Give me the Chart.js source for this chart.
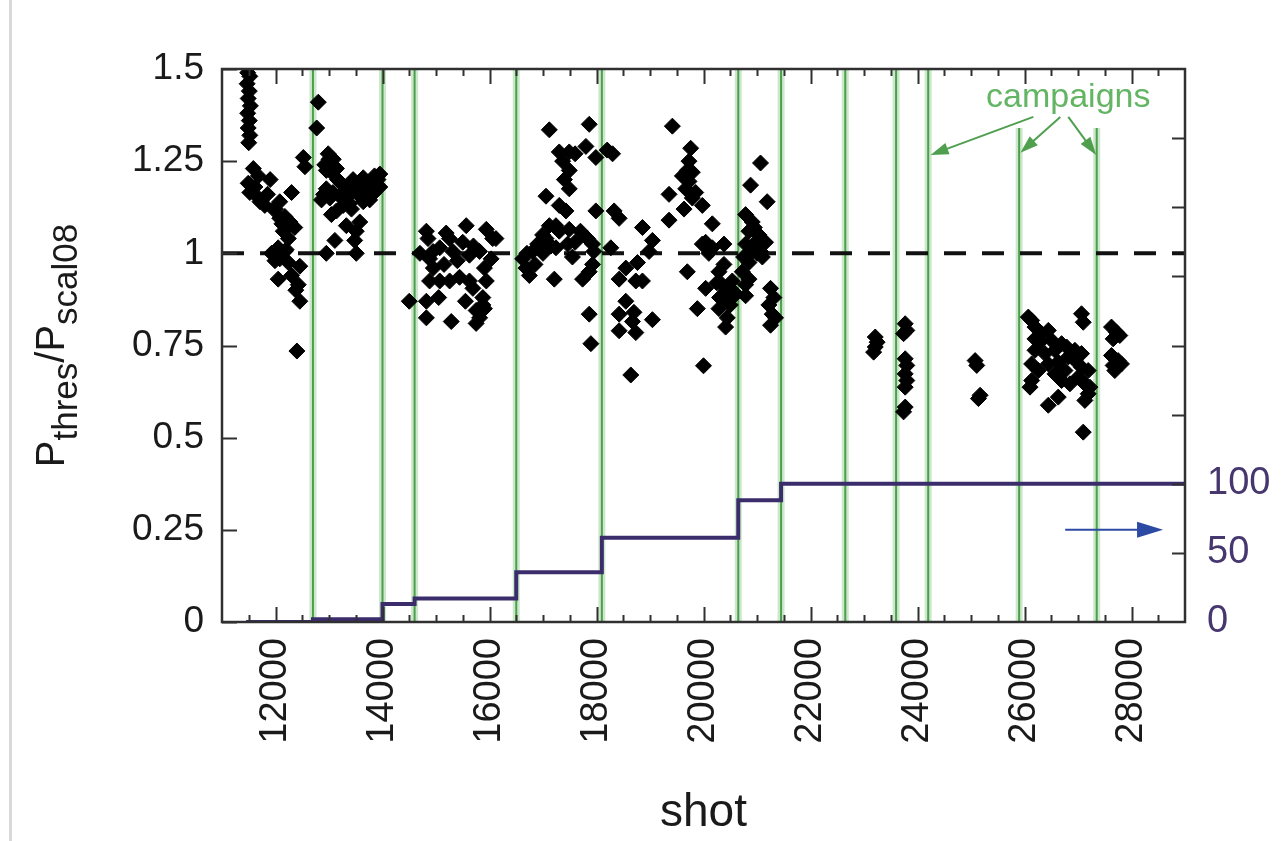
<!DOCTYPE html>
<html>
<head>
<meta charset="utf-8">
<script src="https://cdn.jsdelivr.net/npm/chart.js@4.4.1/dist/chart.umd.min.js"></script>
<style>
  html, body { margin: 0; padding: 0; background: #fff; }
  #wrap { position: relative; width: 1285px; height: 841px; }
  #edge { position: absolute; left: 9px; top: 0; width: 3px; height: 841px; background: #d9d9d9; }
</style>
</head>
<body>
<div id="wrap">
  <canvas id="chart" width="1285" height="841"></canvas>
  <div id="edge"></div>
</div>
<script>
// Axis ticks
const xTickValues = [12000, 14000, 16000, 18000, 20000, 22000, 24000, 26000, 28000];
const xTickLabels = ['12000', '14000', '16000', '18000', '20000', '22000', '24000', '26000', '28000'];
const yTickValues = [0, 0.25, 0.5, 0.75, 1, 1.25, 1.5];
const yTickLabels = ['0', '0.25', '0.5', '0.75', '1', '1.25', '1.5'];
const y2TickValues = [0, 50, 100];
const y2TickLabels = ['0', '50', '100'];

// Campaign boundaries (shot) and where each green line ends (ratio)
const campaignShots = [12700, 14000, 14600, 16500, 18100, 20650, 21450, 22650, 23600, 24200, 25900, 27350];
const campaignTops = [1.5, 1.5, 1.5, 1.5, 1.5, 1.5, 1.5, 1.5, 1.5, 1.5, 1.34, 1.34];

// Step curve on the right axis
const stepShots = [11450, 12700, 14000, 14600, 16500, 18100, 20650, 21450, 29000];
const stepValues = [0, 2, 13, 17, 36, 61, 88, 100, 100];

// Reference level
const refLevel = 1;

// P_thres / P_scal08 per shot, grouped by campaign period
const pointsA = [
    [11480, 1.49], [11520, 1.48], [11470, 1.46], [11510, 1.44], [11490, 1.42], [11530, 1.40], [11480, 1.38], [11510, 1.36],
    [11490, 1.34], [11520, 1.32], [11500, 1.30], [11585, 1.23], [11680, 1.21], [11900, 1.20], [11490, 1.19], [11615, 1.18],
    [11520, 1.165], [11650, 1.155], [11710, 1.14], [11800, 1.13], [12300, 1.165], [12080, 1.14], [11960, 1.12], [12175, 1.10],
    [12080, 1.095], [12270, 1.085], [12360, 1.07], [12145, 1.06], [12240, 1.04], [12050, 1.015], [11925, 1.0], [12175, 1.005],
    [12080, 0.985], [11990, 0.98], [12240, 0.975], [12455, 0.965], [12050, 0.93], [12425, 0.915], [12455, 0.87], [12400, 0.735],
    [12520, 1.26], [12550, 1.235], [11850, 1.16], [12000, 1.12], [12120, 1.08], [12300, 0.94], [12380, 0.90], [12200, 1.01]
];
const pointsB = [
    [12800, 1.41], [12770, 1.34], [12985, 1.27], [13080, 1.255], [12920, 1.24], [13140, 1.23], [13045, 1.22], [13450, 1.20],
    [13640, 1.205], [13790, 1.195], [13915, 1.20], [13950, 1.18], [13825, 1.175], [13510, 1.185], [13325, 1.18], [12950, 1.175],
    [13075, 1.165], [12860, 1.145], [13015, 1.15], [13200, 1.155], [13390, 1.16], [13575, 1.155], [13700, 1.165], [13265, 1.13],
    [13140, 1.115], [13420, 1.12], [13640, 1.14], [13760, 1.145], [13045, 1.105], [13325, 1.075], [13575, 1.085], [13510, 1.06],
    [13110, 1.035], [13480, 1.035], [12950, 1.0], [13510, 1.0], [13850, 1.21], [13700, 1.19], [13600, 1.175], [13230, 1.19],
    [13160, 1.20], [12900, 1.16], [13850, 1.165], [13950, 1.215], [13380, 1.135], [13880, 1.185], [13000, 1.255], [12950, 1.225]
];
const pointsC = [[14500, 0.87]];
const pointsD = [
    [14820, 1.06], [14850, 1.04], [15190, 1.055], [15565, 1.075], [15940, 1.065], [16060, 1.04], [14945, 1.005], [15070, 1.015],
    [15315, 1.005], [15625, 0.995], [15815, 1.005], [16030, 0.985], [14880, 0.985], [14880, 0.925], [15070, 0.925], [15255, 0.925],
    [15440, 0.935], [15625, 0.925], [15940, 0.925], [15690, 0.905], [14820, 0.87], [14820, 0.825], [15285, 0.815], [15750, 0.845],
    [15875, 0.86], [15815, 0.825], [15750, 0.81], [16120, 1.04], [15905, 0.96], [15875, 0.88], [15905, 0.85], [14700, 1.0],
    [14950, 0.96], [15150, 0.97], [15400, 0.98], [15500, 1.03], [15700, 1.02], [15250, 1.04], [15050, 0.88], [15550, 0.87]
];
const pointsE = [
    [16620, 0.985], [16683, 0.96], [16745, 0.94], [16807, 1.005], [16900, 1.025], [16993, 1.05], [17056, 1.04], [17118, 1.075],
    [17242, 1.075], [17304, 1.06], [17491, 1.065], [17242, 1.015], [17460, 1.025], [17118, 1.335], [17864, 1.35], [17304, 1.275],
    [17491, 1.275], [17367, 1.25], [17491, 1.225], [17802, 1.29], [17988, 1.26], [17491, 1.175], [17056, 1.155], [17304, 1.13],
    [17429, 1.115], [17988, 1.115], [17833, 1.04], [17926, 1.025], [17926, 0.97], [17864, 0.95], [17740, 0.93], [17211, 0.93],
    [17864, 0.835], [17895, 0.755], [16700, 1.0], [16850, 0.97], [17000, 1.0], [17150, 1.02], [17600, 1.03], [17700, 1.06],
    [17550, 0.99], [17950, 1.005], [17400, 1.2], [17600, 1.27]
];
const pointsF = [
    [18300, 1.27], [18330, 1.115], [18423, 1.095], [18268, 1.015], [18423, 0.93], [18548, 0.96], [18766, 0.975], [18859, 1.07],
    [19045, 1.035], [18983, 1.005], [18735, 0.925], [18859, 0.925], [18548, 0.87], [18423, 0.835], [18672, 0.815], [18423, 0.79],
    [18735, 0.785], [19045, 0.82], [18641, 0.67], [19418, 1.345], [19356, 1.16], [19356, 1.09], [19760, 1.285], [19729, 1.25],
    [19698, 1.225], [19791, 1.22], [19605, 1.21], [19729, 1.195], [19667, 1.175], [19854, 1.165], [19791, 1.15], [19978, 1.13],
    [19636, 1.12], [20165, 1.08], [20040, 1.03], [19978, 1.025], [20165, 1.015], [20382, 1.025], [19698, 0.95], [20040, 0.905],
    [20289, 0.95], [20351, 0.915], [20475, 0.895], [20413, 0.87], [20289, 0.85], [20444, 0.825], [20413, 0.8], [19885, 0.85],
    [20000, 0.695], [20538, 0.925], [20538, 0.88], [20569, 0.895], [20382, 0.97], [18200, 1.28], [18700, 0.84], [20100, 1.0],
    [20250, 0.92], [20500, 0.86], [20300, 0.88]
];
const pointsG = [
    [21066, 1.245], [20880, 1.185], [21190, 1.14], [20787, 1.105], [20911, 1.085], [20849, 1.06], [21035, 1.05], [20973, 1.03],
    [21160, 1.03], [20787, 1.025], [20911, 1.005], [21066, 1.005], [20849, 0.975], [20725, 0.95], [20787, 0.915], [20787, 0.885],
    [21253, 0.905], [21315, 0.88], [21222, 0.86], [21284, 0.835], [21253, 0.805], [21346, 0.825], [20950, 1.07], [21000, 1.0],
    [20850, 0.93], [20750, 0.99], [21100, 0.99]
];
const pointsH = [
    [23210, 0.773], [23210, 0.746], [23245, 0.759], [23180, 0.732],
    [23770, 0.809], [23800, 0.791], [23740, 0.782], [23770, 0.714], [23800, 0.696], [23770, 0.673], [23800, 0.655], [23770, 0.637],
    [23770, 0.583], [23740, 0.57],
    [25077, 0.709], [25108, 0.696], [25170, 0.615], [25139, 0.606],
    [26134, 0.818], [26196, 0.8], [26320, 0.782], [26445, 0.791], [26507, 0.764], [26289, 0.759], [26196, 0.737], [26382, 0.728],
    [26569, 0.737], [26693, 0.755], [26787, 0.746], [26942, 0.737], [27066, 0.728], [26818, 0.719], [26631, 0.705], [26445, 0.7],
    [26134, 0.7], [26258, 0.682], [26134, 0.655], [26103, 0.637], [26569, 0.673], [26756, 0.682], [26693, 0.655], [26849, 0.646],
    [27004, 0.664], [27128, 0.646], [27191, 0.619], [27128, 0.601], [26445, 0.588], [26631, 0.61], [27066, 0.836], [27098, 0.813],
    [27098, 0.515], [26942, 0.71], [27066, 0.691], [27191, 0.682], [27222, 0.637], [26071, 0.827], [26196, 0.768],
    [27626, 0.8], [27719, 0.786], [27657, 0.768], [27781, 0.777], [27626, 0.723], [27750, 0.709], [27657, 0.696], [27812, 0.7],
    [27688, 0.682]
];

const FONT = "'Liberation Sans', Arial, Helvetica, sans-serif";
const allPoints = [...pointsA, ...pointsB, ...pointsC, ...pointsD, ...pointsE, ...pointsF, ...pointsG, ...pointsH]
    .map(([x, y]) => ({ x, y }));

const campaignData = campaignShots.flatMap((s, i) => [{ x: s, y: 0 }, { x: s, y: campaignTops[i] }, { x: s, y: null }]);
const stepData = stepShots.map((s, i) => ({ x: s, y: stepValues[i] }));

// Annotations, in data units
const campaignLabel = { shot: 26818, ratio: 1.397, text: 'campaigns' };
const campaignArrows = [
    [26165, 1.37, 24244, 1.267],
    [26669, 1.37, 25923, 1.273],
    [26818, 1.37, 27340, 1.267]
];
const blueArrow = { from: 26760, to: 28590, level: 66.7 };

function drawArrow(ctx, x0, y0, x1, y1, color, lw, headLen, headHalf) {
    const a = Math.atan2(y1 - y0, x1 - x0);
    ctx.strokeStyle = color;
    ctx.fillStyle = color;
    ctx.lineWidth = lw;
    ctx.beginPath();
    ctx.moveTo(x0, y0);
    ctx.lineTo(x1 - Math.cos(a) * headLen * 0.8, y1 - Math.sin(a) * headLen * 0.8);
    ctx.stroke();
    ctx.beginPath();
    ctx.moveTo(x1, y1);
    ctx.lineTo(x1 - Math.cos(a) * headLen - Math.sin(a) * headHalf, y1 - Math.sin(a) * headLen + Math.cos(a) * headHalf);
    ctx.lineTo(x1 - Math.cos(a) * headLen + Math.sin(a) * headHalf, y1 - Math.sin(a) * headLen - Math.cos(a) * headHalf);
    ctx.closePath();
    ctx.fill();
}

const overlay = {
    id: 'overlay',
    afterDatasetsDraw(chart) {
        const { ctx, chartArea: a, scales } = chart;
        const { x, y, y2 } = scales;
        ctx.save();
        ctx.strokeStyle = '#303030';
        ctx.lineWidth = 2;
        ctx.beginPath();
        // x ticks, bottom and top, every 500 shots
        for (let v = x.min + 500; v < x.max; v += 500) {
            const px = Math.round(x.getPixelForValue(v)) + 0.5;
            const len = xTickValues.includes(v) ? 15 : 7;
            ctx.moveTo(px, a.bottom); ctx.lineTo(px, a.bottom - len);
            ctx.moveTo(px, a.top); ctx.lineTo(px, a.top + len);
        }
        // left ticks
        yTickValues.forEach(v => {
            const py = Math.round(y.getPixelForValue(v)) + 0.5;
            ctx.moveTo(a.left, py); ctx.lineTo(a.left + 15, py);
        });
        // right ticks, every 50
        for (let v = 50; v < y2.max; v += 50) {
            const py = Math.round(y2.getPixelForValue(v)) + 0.5;
            ctx.moveTo(a.right, py); ctx.lineTo(a.right - 13, py);
        }
        ctx.stroke();
        ctx.lineWidth = 2.5;
        ctx.strokeRect(a.left, a.top, a.right - a.left, a.bottom - a.top);
        ctx.restore();
    },
    afterDraw(chart) {
        const { ctx, chartArea: a, scales } = chart;
        const { x, y, y2 } = scales;
        ctx.save();

        // y axis title with subscripts
        const big = 40, small = 35;
        const parts = [['P', big, 0], ['thres', small, 13], ['/P', big, 0], ['scal08', small, 13]];
        let total = 0;
        parts.forEach(p => { ctx.font = p[1] + 'px ' + FONT; total += ctx.measureText(p[0]).width; });
        ctx.translate(64, (a.top + a.bottom) / 2);
        ctx.rotate(-Math.PI / 2);
        ctx.fillStyle = '#1a1a1a';
        ctx.textBaseline = 'alphabetic';
        let cx = -total / 2;
        parts.forEach(p => {
            ctx.font = p[1] + 'px ' + FONT;
            ctx.fillText(p[0], cx, p[2]);
            cx += ctx.measureText(p[0]).width;
        });
        ctx.setTransform(1, 0, 0, 1, 0, 0);

        // campaigns label and arrows
        ctx.font = '34px ' + FONT;
        ctx.fillStyle = '#63b563';
        ctx.textAlign = 'center';
        ctx.textBaseline = 'alphabetic';
        ctx.fillText(campaignLabel.text, x.getPixelForValue(campaignLabel.shot), y.getPixelForValue(campaignLabel.ratio));
        campaignArrows.forEach(([s0, r0, s1, r1]) => {
            drawArrow(ctx, x.getPixelForValue(s0), y.getPixelForValue(r0), x.getPixelForValue(s1), y.getPixelForValue(r1),
                '#4f9f4f', 2, 18, 6);
        });

        // arrow pointing to the right axis
        const by = y2.getPixelForValue(blueArrow.level);
        drawArrow(ctx, x.getPixelForValue(blueArrow.from), by, x.getPixelForValue(blueArrow.to), by, '#2c4aa3', 2, 26, 8);
        ctx.restore();
    }
};

new Chart(document.getElementById('chart'), {
    type: 'scatter',
    data: {
        datasets: [
            {
                label: 'ratio',
                data: allPoints,
                pointStyle: 'rectRot',
                pointRadius: 8,
                backgroundColor: '#000',
                borderColor: '#000',
                borderWidth: 1,
                order: 0
            },
            {
                type: 'line',
                label: 'reference',
                data: [{ x: 11000, y: refLevel }, { x: 29000, y: refLevel }],
                borderColor: '#111',
                borderWidth: 4,
                borderDash: [22, 16],
                pointRadius: 0,
                order: 1
            },
            {
                type: 'line',
                label: 'cumulative',
                data: stepData,
                yAxisID: 'y2',
                stepped: 'before',
                borderColor: '#3b2c6c',
                borderWidth: 4,
                pointRadius: 0,
                order: 2
            },
            {
                type: 'line',
                label: 'campaigns',
                data: campaignData,
                borderColor: '#4e9e4e',
                borderWidth: 2,
                pointRadius: 0,
                spanGaps: false,
                order: 3
            },
            {
                type: 'line',
                label: 'campaigns halo',
                data: campaignData,
                borderColor: 'rgba(140, 205, 140, 0.45)',
                borderWidth: 7,
                pointRadius: 0,
                spanGaps: false,
                order: 4
            }
        ]
    },
    options: {
        responsive: false,
        animation: false,
        devicePixelRatio: 1,
        layout: { padding: { top: 69, left: 0, right: 0, bottom: 0 }, autoPadding: false },
        plugins: { legend: { display: false }, tooltip: { enabled: false } },
        scales: {
            x: {
                type: 'linear',
                min: 11000,
                max: 29000,
                grid: { display: false, drawTicks: false },
                border: { display: false },
                afterBuildTicks: s => { s.ticks = xTickValues.map(v => ({ value: v })); },
                afterFit: s => { s.height = 219; },
                ticks: {
                    callback: (v, i) => xTickLabels[i],
                    autoSkip: false,
                    minRotation: 90,
                    maxRotation: 90,
                    padding: 16,
                    color: '#1a1a1a',
                    font: { family: FONT, size: 38 }
                },
                title: { display: true, text: 'shot', color: '#1a1a1a', font: { family: FONT, size: 46 }, padding: 0 }
            },
            y: {
                min: 0,
                max: 1.5,
                grid: { display: false, drawTicks: false },
                border: { display: false },
                afterBuildTicks: s => { s.ticks = yTickValues.map(v => ({ value: v })); },
                afterFit: s => { s.width = 222; },
                ticks: {
                    callback: (v, i) => yTickLabels[i],
                    padding: 18,
                    color: '#1a1a1a',
                    font: { family: FONT, size: 37 }
                }
            },
            y2: {
                position: 'right',
                min: 0,
                max: 400,
                grid: { display: false, drawTicks: false },
                border: { display: false },
                afterBuildTicks: s => { s.ticks = y2TickValues.map(v => ({ value: v })); },
                afterFit: s => { s.width = 100; },
                ticks: {
                    callback: (v, i) => y2TickLabels[i],
                    padding: 22,
                    color: '#46376f',
                    font: { family: FONT, size: 38 }
                }
            }
        }
    },
    plugins: [overlay]
});
</script>
</body>
</html>
